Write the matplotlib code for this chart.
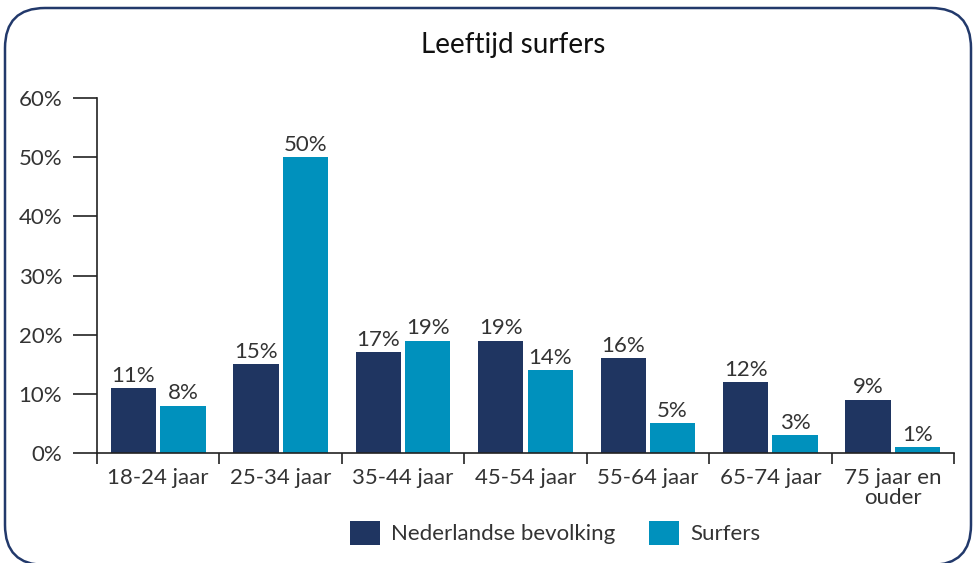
import matplotlib
matplotlib.use("Agg")
import matplotlib.pyplot as plt
import numpy as np
from matplotlib.patches import Patch, FancyBboxPatch
from matplotlib.transforms import IdentityTransform

plt.rcParams['font.family'] = ['Lato', 'DejaVu Sans']
plt.rcParams['font.weight'] = 'normal'

# data
categories = ['18-24 jaar', '25-34 jaar', '35-44 jaar', '45-54 jaar',
              '55-64 jaar', '65-74 jaar', '75 jaar en\nouder']
nederland = [11, 15, 17, 19, 16, 12, 9]
surfers = [8, 50, 19, 14, 5, 3, 1]
series_names = ['Nederlandse bevolking', 'Surfers']

dark = '#1f3561'
light = '#0091bd'
txt = '#333333'

fig = plt.figure(figsize=(9.76, 5.63), dpi=100)
ax = fig.add_axes([97 / 976, 1 - 453 / 563, (954 - 97) / 976, (453 - 98) / 563])

x = np.arange(len(categories))
w = 0.37
off = w / 2 + 0.017
b1 = ax.bar(x - off, nederland, w, color=dark)
b2 = ax.bar(x + off, surfers, w, color=light)

for bars, vals in ((b1, nederland), (b2, surfers)):
    for r, v in zip(bars, vals):
        ax.text(r.get_x() + r.get_width() / 2, v + 0.4, f'{v}%',
                ha='center', va='bottom', fontsize=16, color=txt)

ax.set_xlim(-0.5, len(categories) - 0.5)
ax.set_ylim(0, 60)
ax.set_yticks(range(0, 61, 10))
ax.set_yticklabels([f'{t}%' for t in range(0, 61, 10)])
ax.set_xticks(np.arange(-0.5, len(categories), 1))
ax.set_xticklabels([])
ax.set_xticks(x, minor=True)
ax.set_xticklabels(categories, minor=True, linespacing=1.0)
ax.tick_params(axis='x', which='minor', length=0, pad=11, labelsize=16, labelcolor=txt)
ax.tick_params(axis='x', which='major', length=8, width=1.2, color='#222222')
ax.tick_params(axis='y', length=17, width=1.2, pad=8, labelsize=16,
               labelcolor=txt, color='#222222')
for s in ('top', 'right'):
    ax.spines[s].set_visible(False)
for s in ('left', 'bottom'):
    ax.spines[s].set_linewidth(1.2)
    ax.spines[s].set_color('#222222')

fig.text(513 / 976, 1 - 45 / 563, 'Leeftijd surfers', ha='center', va='center',
         fontsize=20, color='#111111')

handles = [Patch(facecolor=dark, label=series_names[0]),
           Patch(facecolor=light, label=series_names[1])]
fig.legend(handles=handles, loc='center', bbox_to_anchor=(555 / 976, 1 - 533 / 563),
           ncol=2, frameon=False, fontsize=16, handlelength=1.35, handleheight=1.35,
           handletextpad=0.5, columnspacing=1.5, labelcolor=txt)

border = FancyBboxPatch((5, -2), 966, 557, boxstyle='round,pad=0,rounding_size=40',
                        transform=IdentityTransform(), fill=False,
                        edgecolor='#22396b', linewidth=1.8)
fig.patches.append(border)

fig.savefig('out.png', dpi=100)
